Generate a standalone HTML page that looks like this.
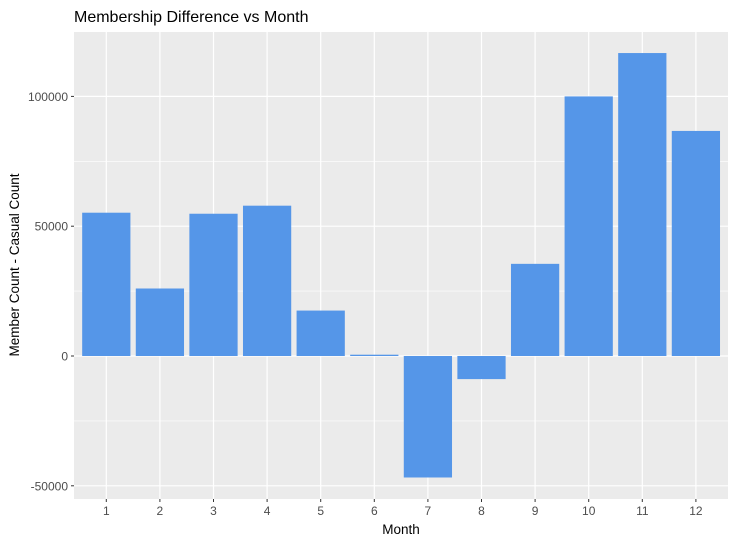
<!DOCTYPE html>
<html><head><meta charset="utf-8"><style>
body{margin:0;background:#fff;}
text{font-family:"Liberation Sans",sans-serif;}
</style></head><body>
<svg width="735" height="544" id="chart" xmlns="http://www.w3.org/2000/svg">
<rect x="0" y="0" width="735" height="544" fill="#fff"/>
<text x="74" y="22" font-size="16" fill="#000">Membership Difference vs Month</text>
<rect x="74" y="32" width="654" height="467" fill="#ebebeb"/>
<g id="grid"></g><g id="bars"></g><g id="axes"></g>
<text x="401" y="534" font-size="13.5" text-anchor="middle" fill="#000">Month</text>
<text transform="translate(19,265) rotate(-90)" font-size="13.5" text-anchor="middle" fill="#000">Member Count - Casual Count</text>
</svg>
<script>
const months=[1,2,3,4,5,6,7,8,9,10,11,12];
const diffs=[55200,26000,54800,57900,17500,500,-46800,-8900,35500,100000,116700,86700];
const yTicks=[-50000,0,50000,100000];
const yMinor=[-25000,25000,75000];
const NS="http://www.w3.org/2000/svg";
const panelL=74,panelR=728,panelT=32,panelB=499;
const xs=m=>106.3+(m-1)*53.6;
const ys=v=>356-v*129.8/50000;
const bw=53.6*0.9;
function mk(t,a,p){const e=document.createElementNS(NS,t);for(const k in a)e.setAttribute(k,a[k]);document.getElementById(p).appendChild(e);return e;}
yMinor.forEach(v=>{const l=mk('line',{x1:panelL,x2:panelR,y1:ys(v),y2:ys(v),stroke:'#fff','stroke-width':0.6},'grid');

});
yTicks.forEach(v=>{const l=mk('line',{x1:panelL,x2:panelR,y1:ys(v),y2:ys(v),stroke:'#fff','stroke-width':1.2},'grid');


const t=mk('line',{x1:panelL-3,x2:panelL,y1:ys(v),y2:ys(v),stroke:'#333','stroke-width':1},'axes');


const tx=mk('text',{x:panelL-6,y:ys(v)+4.5,'font-size':12,'text-anchor':'end',fill:'#4d4d4d'},'axes');
tx.textContent=v;

});
months.forEach((m,i)=>{const l=mk('line',{x1:xs(m),x2:xs(m),y1:panelT,y2:panelB,stroke:'#fff','stroke-width':1.2},'grid');


const v=diffs[i];const y1=ys(Math.max(v,0)),y2=ys(Math.min(v,0));
const r=mk('rect',{x:xs(m)-bw/2,y:y1,width:bw,height:Math.max(y2-y1,0.8),fill:'#5596e8'},'bars');


const t=mk('line',{x1:xs(m),x2:xs(m),y1:panelB,y2:panelB+3,stroke:'#333','stroke-width':1},'axes');


const tx=mk('text',{x:xs(m),y:panelB+16,'font-size':12,'text-anchor':'middle',fill:'#4d4d4d'},'axes');
tx.textContent=m;

});
</script>
</body></html>
